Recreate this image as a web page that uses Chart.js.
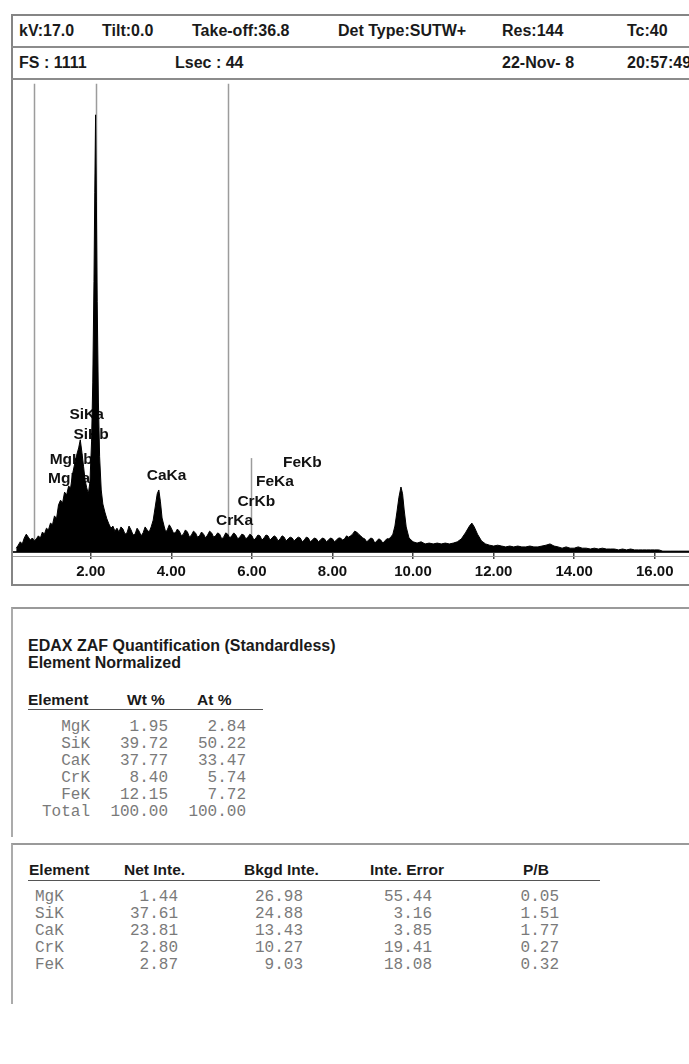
<!DOCTYPE html>
<html lang="no">
<head>
<meta charset="utf-8">
<title>EDAX-spekter</title>
<script src="https://cdn.jsdelivr.net/npm/chart.js@4.4.1/dist/chart.umd.min.js"></script>
<style>
  html, body { margin: 0; padding: 0; background: #fff; }
  body { width: 689px; height: 1064px; overflow: hidden; position: relative;
         font-family: "Liberation Sans", Arial, sans-serif; color: #1a1a1a; }
  .boks { position: absolute; left: 11px; width: 740px; box-sizing: border-box; }
  #boks1 { top: 14px; height: 572px; border: 2px solid #858585; }
  #boks2 { top: 607px; height: 230px; border-top: 2px solid #9a9a9a; border-left: 2px solid #ababab; }
  #boks3 { top: 843px; height: 161px; border-top: 2px solid #9a9a9a; border-left: 2px solid #ababab; }
  .skille { position: absolute; left: 11px; width: 740px; height: 0; border-top: 2px solid #8c8c8c; }
  .hode { position: absolute; font-weight: bold; font-size: 16px; line-height: 20px; white-space: nowrap; }
  .tittel { position: absolute; font-weight: bold; font-size: 16px; line-height: 18px; white-space: nowrap; }
  .kol { position: absolute; font-weight: bold; font-size: 15.5px; line-height: 18px; white-space: nowrap; }
  .mono { position: absolute; font-family: "Liberation Mono", "Courier New", monospace; font-size: 16px;
          line-height: 17px; color: #7a7a7a; white-space: pre; }
  .strek { position: absolute; height: 0; border-top: 1.5px solid #555; }
  #spekter { position: absolute; left: 13px; top: 80px; }
</style>
</head>
<body>

<div class="boks" id="boks1"></div>
<div class="skille" style="top:46px"></div>
<div class="skille" style="top:78px"></div>

<div class="hode" style="left:19px;top:21px">kV:17.0</div>
<div class="hode" style="left:102px;top:21px">Tilt:0.0</div>
<div class="hode" style="left:192px;top:21px">Take-off:36.8</div>
<div class="hode" style="left:338px;top:21px">Det Type:SUTW+</div>
<div class="hode" style="left:502px;top:21px">Res:144</div>
<div class="hode" style="left:627px;top:21px">Tc:40</div>
<div class="hode" style="left:19px;top:53px">FS : 1111</div>
<div class="hode" style="left:175px;top:53px">Lsec : 44</div>
<div class="hode" style="left:502px;top:53px">22-Nov- 8</div>
<div class="hode" style="left:627px;top:53px">20:57:49</div>

<canvas id="spekter" width="676" height="504"></canvas>

<div class="boks" id="boks2"></div>
<div class="tittel" style="left:28px;top:637px">EDAX ZAF Quantification (Standardless)</div>
<div class="tittel" style="left:28px;top:654px">Element Normalized</div>
<div class="kol" style="left:28px;top:691px">Element</div>
<div class="kol" style="left:127px;top:691px">Wt %</div>
<div class="kol" style="left:197px;top:691px">At %</div>
<div class="strek" style="left:28px;top:709px;width:235px"></div>

<div class="boks" id="boks3"></div>
<div class="kol" style="left:29px;top:861px">Element</div>
<div class="kol" style="left:124px;top:861px">Net Inte.</div>
<div class="kol" style="left:244px;top:861px">Bkgd Inte.</div>
<div class="kol" style="left:370px;top:861px">Inte. Error</div>
<div class="kol" style="left:523px;top:861px">P/B</div>
<div class="strek" style="left:28px;top:880px;width:572px"></div>

<div id="tabeller"></div>

<script>
// EDAX-spekter: tellinger mot energi (keV), avlest fra utskriften
const energiKeV = [
  0.15, 0.20, 0.25, 0.30, 0.35, 0.40, 0.45, 0.50, 0.55, 0.60,
  0.65, 0.70, 0.75, 0.80, 0.85, 0.90, 0.95, 1.00, 1.05, 1.10,
  1.15, 1.20, 1.25, 1.30, 1.35, 1.40, 1.45, 1.50, 1.55, 1.60,
  1.65, 1.70, 1.74, 1.78, 1.82, 1.86, 1.90, 1.94, 1.98, 2.02,
  2.05, 2.08, 2.10, 2.12, 2.14, 2.16, 2.19, 2.22, 2.26, 2.30,
  2.35, 2.40, 2.45,
  2.50, 2.55, 2.60, 2.65, 2.70, 2.75, 2.80, 2.85, 2.90, 2.95,
  3.00, 3.05, 3.10, 3.15, 3.20, 3.25, 3.30, 3.35, 3.40, 3.45,
  3.50, 3.55, 3.60, 3.65, 3.69, 3.73, 3.77, 3.82, 3.86, 3.90, 3.95,
  4.00, 4.05, 4.10, 4.15, 4.20, 4.25, 4.30, 4.35, 4.40, 4.45,
  4.50, 4.55, 4.60, 4.65, 4.70, 4.75, 4.80, 4.85, 4.90, 4.95,
  5.00, 5.05, 5.10, 5.15, 5.20, 5.25, 5.30, 5.35, 5.40, 5.45,
  5.50, 5.55, 5.60, 5.65, 5.70, 5.75, 5.80, 5.85, 5.90, 5.95,
  6.00, 6.05, 6.10, 6.15, 6.20, 6.25, 6.30, 6.35, 6.40, 6.45,
  6.50, 6.55, 6.60, 6.65, 6.70, 6.75, 6.80, 6.85, 6.90, 6.95,
  7.00, 7.05, 7.10, 7.15, 7.20, 7.25, 7.30, 7.35, 7.40, 7.45,
  7.50, 7.55, 7.60, 7.65, 7.70, 7.75, 7.80, 7.85, 7.90, 7.95,
  8.00, 8.05, 8.10, 8.15, 8.20, 8.25, 8.30, 8.35, 8.40, 8.45,
  8.50, 8.55, 8.60, 8.65, 8.70, 8.75, 8.80, 8.85, 8.90, 8.95,
  9.00, 9.05, 9.10, 9.15, 9.20, 9.25, 9.30, 9.35, 9.40, 9.45,
  9.50, 9.55, 9.60, 9.65, 9.70, 9.74, 9.78, 9.83, 9.90,
  10.00, 10.10, 10.20, 10.30, 10.40, 10.50, 10.60, 10.70, 10.80, 10.90,
  11.00, 11.10, 11.20, 11.30, 11.40, 11.46, 11.52, 11.60, 11.70, 11.80,
  11.90, 12.00, 12.10, 12.20, 12.30, 12.40, 12.50, 12.60, 12.70, 12.80,
  12.90, 13.00, 13.10, 13.20, 13.30, 13.40, 13.50, 13.60, 13.70, 13.80,
  13.90, 14.00, 14.10, 14.20, 14.30, 14.40, 14.50, 14.60, 14.70, 14.80,
  14.90, 15.00, 15.10, 15.20, 15.30, 15.40, 15.50, 15.60, 15.70, 15.80,
  15.90, 16.00, 16.10, 16.20, 16.40, 16.60, 16.85
];
const tellinger = [
  9, 16, 24, 19, 33, 42, 35, 28, 33, 26,
  31, 38, 33, 47, 42, 56, 52, 68, 64, 85,
  78, 111, 122, 115, 141, 134, 155, 151, 184, 207,
  228, 245, 264, 235, 202, 169, 151, 137, 165, 259,
  400, 636, 847, 1029, 824, 589, 353, 224, 146, 113,
  94, 78, 66,
  56, 61, 49, 56, 47, 59, 54, 42, 45, 61,
  52, 40, 42, 56, 49, 38, 45, 59, 52, 47,
  59, 75, 106, 137, 146, 118, 80, 61, 47, 52, 64,
  56, 45, 45, 54, 49, 38, 42, 52, 47, 35,
  40, 49, 45, 35, 38, 47, 42, 33, 40, 49,
  45, 35, 38, 45, 42, 31, 35, 45, 42, 33,
  38, 45, 40, 31, 35, 42, 40, 31, 35, 42,
  38, 28, 33, 40, 38, 28, 33, 40, 38, 28,
  33, 38, 35, 26, 31, 38, 35, 26, 31, 35,
  33, 26, 31, 35, 33, 24, 28, 35, 33, 24,
  28, 33, 31, 24, 28, 33, 31, 24, 28, 33,
  31, 24, 28, 33, 33, 28, 31, 38, 35, 38,
  42, 49, 47, 42, 38, 33, 31, 24, 28, 33,
  31, 21, 26, 31, 28, 21, 26, 31, 31, 35,
  42, 61, 94, 129, 153, 137, 99, 59, 33,
  24, 21, 24, 19, 21, 19, 21, 19, 21, 19,
  21, 24, 31, 45, 61, 68, 59, 42, 26, 19,
  16, 14, 16, 14, 12, 14, 12, 14, 12, 12,
  14, 12, 12, 14, 16, 19, 14, 12, 9, 12,
  9, 9, 12, 9, 9, 7, 9, 7, 9, 7,
  7, 7, 5, 7, 5, 7, 5, 5, 5, 5,
  5, 5, 5, 2, 2, 2, 2
];
const fullSkala = 1111;
const tickVerdier = [2, 4, 6, 8, 10, 12, 14, 16];

// Markorlinjer (keV) og hvor høyt de går (tellinger)
const markorEnergi = [0.58, 2.13, 5.41, 5.98];
const markorTopp = [1102, 1102, 1102, 221];

// Toppnavn med plassering (venstre kant i keV, midt i tellinger)
const toppNavn = ['SiKa', 'SiKb', 'MgKb', 'MgKa', 'CaKa', 'CrKa', 'CrKb', 'FeKa', 'FeKb'];
const navnEnergi = [1.47, 1.57, 0.98, 0.94, 3.39, 5.11, 5.64, 6.10, 6.77];
const navnTelling = [322, 275, 217, 172, 179, 73, 118, 165, 210];

// Kvantifisering
const elementer = ['MgK', 'SiK', 'CaK', 'CrK', 'FeK'];
const vektProsent = [1.95, 39.72, 37.77, 8.40, 12.15];
const atomProsent = [2.84, 50.22, 33.47, 5.74, 7.72];
const totalVekt = 100.00;
const totalAtom = 100.00;
const nettoInt = [1.44, 37.61, 23.81, 2.80, 2.87];
const bakgrunnInt = [26.98, 24.88, 13.43, 10.27, 9.03];
const inteFeil = [55.44, 3.16, 3.85, 19.41, 18.08];
const pbForhold = [0.05, 1.51, 1.77, 0.27, 0.32];

function lagCelle(tekst, kant, midtY, hoyre) {
  const d = document.createElement('div');
  d.className = 'mono';
  d.textContent = tekst;
  d.style.top = (midtY - 8.5) + 'px';
  if (hoyre) d.style.right = (689 - kant) + 'px';
  else d.style.left = kant + 'px';
  document.getElementById('tabeller').appendChild(d);
}

function fyllTabeller() {
  const f = v => v.toFixed(2);
  elementer.forEach((el, i) => {
    const y = 727.5 + i * 16.9;
    lagCelle(el, 90, y, true);
    lagCelle(f(vektProsent[i]), 168, y, true);
    lagCelle(f(atomProsent[i]), 246, y, true);
  });
  const yTot = 727.5 + 5 * 16.9;
  lagCelle('Total', 90, yTot, true);
  lagCelle(f(totalVekt), 168, yTot, true);
  lagCelle(f(totalAtom), 246, yTot, true);

  elementer.forEach((el, i) => {
    const y = 897 + i * 17;
    lagCelle(el, 35, y, false);
    lagCelle(f(nettoInt[i]), 178, y, true);
    lagCelle(f(bakgrunnInt[i]), 303, y, true);
    lagCelle(f(inteFeil[i]), 432, y, true);
    lagCelle(f(pbForhold[i]), 559, y, true);
  });
}

const merkePlugin = {
  id: 'merker',
  beforeDatasetsDraw(chart) {
    const { ctx, chartArea, scales: { x, y } } = chart;
    ctx.save();
    ctx.strokeStyle = '#9c9c9c';
    ctx.lineWidth = 1.5;
    markorEnergi.forEach((e, i) => {
      const px = Math.round(x.getPixelForValue(e)) + 0.5;
      ctx.beginPath();
      ctx.moveTo(px, y.getPixelForValue(markorTopp[i]));
      ctx.lineTo(px, chartArea.bottom);
      ctx.stroke();
    });
    ctx.fillStyle = '#111';
    ctx.font = 'bold 15.5px "Liberation Sans", Arial, sans-serif';
    ctx.textBaseline = 'middle';
    toppNavn.forEach((navn, i) => {
      ctx.fillText(navn, x.getPixelForValue(navnEnergi[i]), y.getPixelForValue(navnTelling[i]));
    });
    ctx.restore();
  },
  afterDraw(chart) {
    // svak linje rett under aksen
    const { ctx, chartArea } = chart;
    ctx.save();
    ctx.strokeStyle = '#a0a0a0';
    ctx.lineWidth = 1;
    ctx.beginPath();
    ctx.moveTo(chartArea.left, chartArea.bottom + 4.5);
    ctx.lineTo(chartArea.right, chartArea.bottom + 4.5);
    ctx.stroke();
    ctx.restore();
  }
};

function tegnSpekter() {
  const punkter = energiKeV.map((e, i) => ({ x: e, y: tellinger[i] }));
  const ctx = document.getElementById('spekter').getContext('2d');

  new Chart(ctx, {
    type: 'line',
    data: {
      datasets: [{
        label: 'Tellinger',
        data: punkter,
        borderColor: '#000',
        backgroundColor: '#000',
        borderWidth: 1,
        pointRadius: 0,
        tension: 0,
        fill: 'origin'
      }]
    },
    options: {
      responsive: false,
      animation: false,
      layout: { padding: 0 },
      plugins: { legend: { display: false }, tooltip: { enabled: false } },
      scales: {
        x: {
          type: 'linear',
          min: 0.07,
          max: 16.85,
          afterBuildTicks: skala => { skala.ticks = tickVerdier.map(v => ({ value: v })); },
          afterFit: skala => { skala.height = 32; },
          border: { display: true, color: '#2a2a2a', width: 2 },
          grid: { drawOnChartArea: false, drawTicks: true, tickLength: 7, color: '#444', lineWidth: 1.5 },
          ticks: {
            autoSkip: false,
            maxRotation: 0,
            padding: 4,
            color: '#111',
            font: { family: '"Liberation Sans", Arial, sans-serif', size: 15, weight: 'bold' },
            callback: v => Number(v).toFixed(2)
          }
        },
        y: { display: false, min: 0, max: fullSkala }
      }
    },
    plugins: [merkePlugin]
  });
}

document.addEventListener('DOMContentLoaded', () => {
  fyllTabeller();
  tegnSpekter();
});
</script>
</body>
</html>
